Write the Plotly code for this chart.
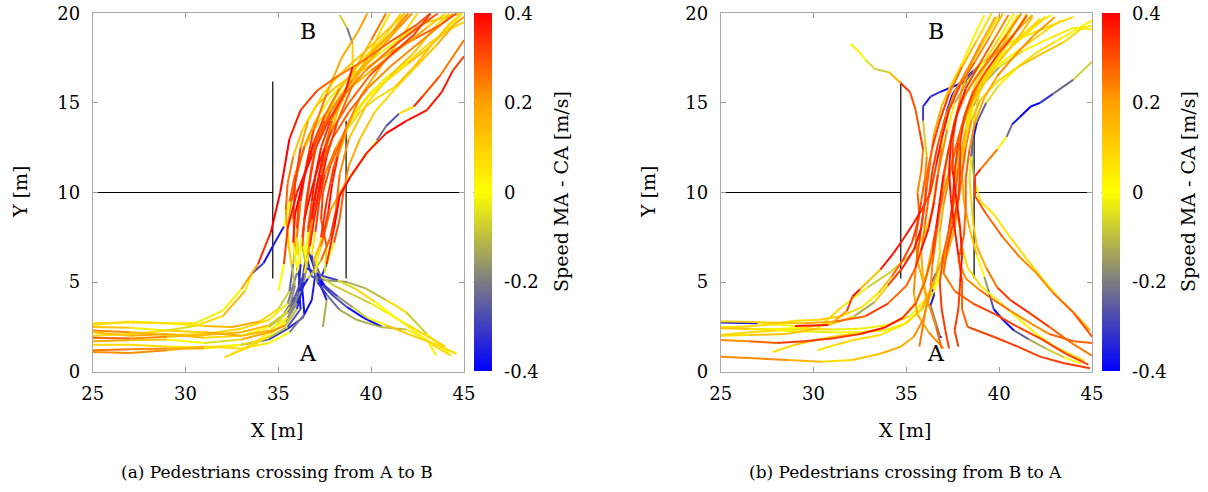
import plotly.graph_objects as go

FONT = "DejaVu Serif"

# ---------------- data ----------------
c_min, c_max = -0.4, 0.4
cbar_ticks = [-0.4, -0.2, 0, 0.2, 0.4]
cbar_text = ["-0.4", "-0.2", "0", "0.2", "0.4"]
x_ticks = [25, 30, 35, 40, 45]
y_ticks = [0, 5, 10, 15, 20]

# walls (x list, y list per wall piece)
walls = [
    ([25, 34.7], [10, 10]),
    ([38.65, 45], [10, 10]),
    ([34.7, 34.7], [5.2, 16.2]),
    ([38.65, 38.65], [5.2, 14.0]),
]

# ---- panel (a): A -> B, trajectories as (x, y, speed diff) ----
a01 = [(25,2.7,0.1),(27,2.75,0.05),(29,2.7,0.1),(30.5,2.7,0.0),(32,3.4,-0.05),(33,4.6,0.1),(33.9,6.0,0.3),(34.6,7.8,0.4),(35.1,10.0,0.4),(35.6,13.0,0.4),(36.2,14.6,0.35),(37.1,15.7,0.3),(38.2,16.5,0.25),(39.5,17.3,0.25),(41.0,18.4,0.3),(42.5,19.4,0.3),(43.2,20,0.3)]
a02 = [(25,2.5,0.15),(27,2.45,0.1),(29,2.3,-0.15),(30.5,2.55,0.05),(32,3.1,0.1),(33.2,4.5,0.2),(33.6,5.5,-0.25),(34.2,6.05,-0.35),(34.7,7.0,-0.38),(35.3,8.1,-0.3),(35.6,9.5,0.3),(35.9,11,0.25),(36.4,12.5,0.2),(37.2,14,0.05),(38.5,15.5,0.1),(40,16.8,0.2),(41.5,18,0.25),(43,19.2,0.1),(44,20,0.1)]
a03 = [(25,2.3,0.25),(27,2.2,0.2),(29,2.05,0.1),(31,2.1,0.05),(33,2.4,0.1),(34.5,2.9,0.05),(35.5,3.8,-0.1),(36.0,5.5,-0.3),(36.3,7.5,0.3),(36.6,10,0.35),(37.0,12.5,0.3),(37.8,14.5,0.25),(39.0,16.3,0.2),(40.3,17.8,0.15),(41.5,19.2,0.2),(42.2,20,0.25)]
a04 = [(25,2.0,0.05),(27,2.1,0.1),(29,2.3,0.05),(31,2.2,0.15),(33,2.0,0.2),(34.5,2.3,0.1),(35.5,3.0,-0.05),(36.2,4.5,-0.3),(36.5,6.5,-0.35),(36.9,8.5,0.3),(37.2,10,0.4),(37.6,12,0.35),(38.2,14,0.3),(39.0,16,0.25),(39.8,17.5,0.1),(40.5,19,0.05),(41,20,0.05)]
a05 = [(25,1.7,0.2),(27,1.75,0.15),(29,1.8,0.1),(31,1.6,-0.1),(33,1.8,0.0),(34.5,2.2,0.35),(35.4,2.6,0.1),(36.0,3.5,-0.3),(36.4,5.0,-0.4),(36.6,6.5,0.1),(36.8,8.5,0.35),(37.1,10.5,0.4),(37.5,12.5,0.35),(37.9,14,0.2),(38.5,15.5,0.05),(39.2,17,0.1),(40,18.5,0.2),(40.8,20,0.3)]
a06 = [(25,1.5,0.05),(27,1.5,0.1),(29,1.4,0.05),(31,1.35,0.05),(33,1.5,-0.1),(34.5,1.9,0.0),(35.5,2.5,-0.2),(36.2,3.5,-0.35),(36.1,4.8,-0.4),(36.2,6.0,-0.3),(36.0,7.5,0.2),(36.2,9.5,0.3),(36.5,11.5,0.35),(36.9,13.5,0.3),(37.6,15.5,0.2),(38.4,17.5,0.15),(39.3,19,0.2),(39.8,20,0.2)]
a07 = [(25,1.2,0.25),(27,1.25,0.25),(29,1.3,0.2),(31,1.3,0.15),(33,1.5,-0.1),(34.5,1.8,-0.3),(35.5,2.4,-0.35),(36.3,3.0,-0.35),(36.8,4.0,-0.4),(37.0,5.5,-0.3),(37.3,7.5,0.35),(37.6,9.5,0.35),(38.0,11.5,0.3),(38.6,13.5,0.25),(39.5,15.5,0.2),(40.5,17,0.15),(41.5,18.5,0.05),(42.5,20,0.1)]
a08 = [(25,2.6,0.1),(27,2.8,0.05),(29,2.7,0.0),(31,2.55,0.1),(32.5,2.5,0.2),(34,2.8,0.15),(35,3.5,0.05),(35.6,4.5,-0.2),(35.8,6.0,-0.3),(35.9,7.0,0.1),(35.8,8.5,0.3),(35.9,10.5,0.35),(36.2,12.5,0.3),(36.6,14,0.1),(37.4,15.5,0.05),(38.5,16.8,0.1),(39.8,18,0.15),(41,19.2,0.1),(41.8,20,0.15)]
a09 = [(25,1.9,0.3),(27,1.85,0.25),(29,1.95,0.2),(31,2.05,0.1),(33,2.2,0.2),(34.5,2.6,0.1),(35.3,3.2,-0.25),(35.9,4.2,-0.35),(36.4,5.5,-0.2),(36.7,7.0,0.3),(37.0,9.0,0.4),(37.3,11,0.3),(37.7,13,0.2),(38.3,14.8,0.05),(39.0,16.3,0.1),(40.0,17.8,0.15),(41.2,19,0.2),(42,20,0.25)]
a10 = [(25,2.2,0.1),(27,2.0,0.15),(29,2.1,0.2),(31,1.9,0.1),(33,2.0,0.05),(34.5,2.5,-0.05),(35.5,3.3,-0.15),(36.0,4.2,-0.35),(36.6,5.2,-0.4),(37.3,6.2,0.2),(37.8,7.5,0.35),(38.1,9.0,0.3),(38.3,11,0.25),(38.8,13,0.2),(39.8,15,0.05),(41.0,16.5,0.1),(42.3,17.8,0.15),(43.5,19.3,0.1),(44.2,20,0.05)]
a11 = [(32.1,0.8,0.05),(33.0,1.2,0.1),(34.0,1.8,0.05),(34.9,2.6,0.0),(35.6,3.6,-0.1),(35.9,4.8,-0.25),(35.7,6.0,0.05),(35.5,7.5,0.15),(35.4,9.0,0.25),(35.5,10.5,0.3),(35.8,12,0.2),(36.3,13.5,0.05),(37.0,14.8,0.1),(38.0,15.8,0.15),(39.3,16.8,0.1),(40.5,17.8,0.0),(41.8,18.8,0.05),(43,19.5,0.1),(44.8,20,0.15)]
a12 = [(32.5,1.0,0.1),(33.5,1.4,0.05),(34.5,2.0,0.1),(35.4,2.8,-0.05),(36.0,3.8,-0.3),(36.3,5.0,-0.38),(36.5,6.2,-0.3),(36.3,7.5,0.3),(36.5,9.5,0.35),(36.8,11.5,0.3),(37.2,13.2,0.2),(37.8,14.8,0.0),(38.6,16.2,-0.1),(39.6,17.5,0.05),(40.8,18.8,0.1),(41.6,20,0.1)]
a13 = [(35.0,4.5,-0.3),(35.3,6,0.3),(35.5,8,0.35),(36.0,10,0.4),(36.8,12,0.35),(37.7,14,0.3),(38.6,15.6,0.35),(39.0,17.0,0.4),(39.0,18.3,-0.2),(38.7,19.2,-0.2),(38.3,19.9,0.05)]
a14 = [(25,1.1,0.2),(27,1.05,0.25),(29,1.2,0.2),(31,1.4,0.1),(33,1.3,0.05),(34.5,1.6,0.05),(35.6,2.2,-0.05),(36.4,3.2,-0.35),(36.3,4.5,-0.4),(36.0,5.8,-0.3),(35.8,7.2,0.35),(35.9,8.8,0.4),(36.3,10.5,0.4),(36.8,12.3,0.35),(37.5,14,0.25),(38.4,15.5,0.1),(39.4,16.8,0.0),(40.5,18.2,0.05),(41.3,19.2,0.1),(41.8,20,0.1)]
a15 = [(44.2,1.0,0.05),(43.0,2.1,-0.05),(41.9,3.3,-0.1),(41.3,3.7,0.25),(40.8,4.0,-0.1),(39.7,4.65,-0.1),(38.7,5.0,-0.15),(37.6,5.1,-0.2),(36.8,5.3,-0.35),(36.5,6.5,-0.3),(36.6,7.8,0.3),(36.9,9.5,0.35),(37.3,11.5,0.3),(37.9,13,0.25),(38.8,14.5,0.3),(39.8,15.8,0.25),(41,17,0.2),(42.4,18.2,0.25),(43.7,19.3,0.2),(44.4,20,0.15)]
a16 = [(43.5,0.9,0.05),(43.0,1.8,0.0),(41.9,2.35,-0.05),(40.5,2.5,-0.15),(39.2,2.9,-0.1),(38.3,3.45,-0.15),(37.6,4.3,-0.3),(37.1,5.0,-0.35),(36.9,6.2,0.0),(37.4,7.5,0.3),(37.7,9.0,0.35),(37.9,10.5,0.4),(38.2,12,0.3),(38.7,13.5,0.05),(39.4,14.5,-0.15),(40.2,15.2,0.05),(41.3,15.9,0.1),(42.3,17.0,0.15),(43.3,18.3,0.1),(44.3,19.5,0.1),(44.9,20,0.05)]
a17 = [(44.6,1.0,0.1),(43.3,1.6,0.05),(42.0,2.1,0.15),(40.8,2.6,0.1),(39.8,3.0,-0.05),(39.0,3.6,-0.1),(38.2,4.2,-0.25),(37.5,4.8,-0.35),(37.0,5.6,-0.38),(36.6,6.8,-0.3),(36.6,8.0,0.25),(36.8,9.5,0.35),(37.0,11,0.4),(37.3,12.5,0.35),(37.8,14,0.3),(38.6,15.5,0.25),(39.7,16.8,0.2),(41.0,18,0.3),(42.5,19.2,0.3),(43.6,20,0.3)]
a18 = [(40.6,2.5,-0.38),(39.6,3.0,-0.4),(38.7,3.6,-0.35),(38.0,4.2,-0.2),(37.4,4.8,-0.4),(37.0,5.4,-0.4),(36.8,6.5,-0.2),(37.0,7.8,0.3),(37.2,9.5,0.35),(37.5,11,0.3),(38.1,12.5,0.2),(38.9,14,0.1),(39.8,15.3,0.0),(40.9,16.3,0.05),(42.0,17.2,0.1),(43.0,18,0.15),(44.0,19,0.1),(44.9,20,0.0)]
a19 = [(44.0,1.4,0.1),(43.0,2.0,0.1),(42.0,2.6,0.05),(41.0,3.2,0.0),(40.0,3.8,-0.05),(39.0,4.3,-0.1),(38.0,4.8,-0.05),(37.3,5.3,-0.1),(37.0,6.0,-0.35),(37.3,7.0,0.2),(37.8,9.0,0.3),(38.6,10.5,0.1),(39.5,11.8,0.05),(40.3,12.9,-0.1),(40.8,13.7,-0.35),(41.5,14.4,-0.2),(42.3,14.8,0.35),(42.8,15.4,0.35),(43.7,16.5,0.25),(45,18.5,0.25)]
a20 = [(37.6,6.0,0.3),(38.0,8.0,0.4),(38.3,9.8,0.4),(38.9,10.9,0.4),(39.75,12.2,0.35),(40.8,13.3,0.4),(41.9,14.0,0.4),(43.0,14.6,0.35),(43.8,15.6,0.4),(44.4,16.8,0.35),(45,17.6,0.3)]
a21 = [(44.3,0.9,0.1),(43.3,1.5,0.05),(42.3,2.3,0.0),(41.2,3.1,-0.05),(40.2,3.9,0.05),(39.2,4.6,0.1),(38.2,5.1,-0.2),(37.2,5.4,-0.38),(36.5,5.8,-0.4),(36.3,7.0,0.2),(36.4,8.5,0.35),(36.8,10.2,0.4),(37.3,12,0.35),(37.9,13.5,0.3),(38.8,15,0.25),(39.9,16.5,0.3),(41.1,17.7,0.3),(42.3,18.8,0.35),(43.2,20,0.3)]
a22 = [(37.4,2.5,0.05),(37.6,4.0,-0.3),(37.2,5.0,-0.4),(37.6,6.0,-0.3),(38.0,7.2,0.3),(38.3,8.5,0.3),(38.5,10,0.25),(38.8,11.5,0.2),(39.4,13,0.15),(40.2,14.5,0.1),(41.3,15.8,0.05),(42.4,17,0.1),(43.5,18.2,0.15),(44.5,19.4,0.2),(45,19.8,0.2)]
a23 = [(36.0,6.5,-0.2),(36.0,8,0.3),(36.1,9.5,0.35),(36.4,11,0.4),(36.9,12.8,0.35),(37.5,14.3,0.3),(38.3,15.8,0.2),(39.2,17.0,0.05),(40.2,18.0,0.1),(41.2,19,0.15),(42.0,20,0.15)]
a24 = [(37.5,5.5,-0.35),(37.6,7,0.25),(37.3,8.5,0.35),(37.4,10,0.3),(37.8,11.5,0.3),(38.4,13,0.25),(39.0,14.3,0.1),(39.9,15.5,0.0),(40.9,16.5,-0.05),(42,17.3,0.05),(43.1,18.3,0.1),(44.2,19.1,0.1),(45,19.5,0.1)]
a25 = [(35.6,6.8,-0.15),(35.5,8.0,0.1),(35.7,9.5,0.3),(36.0,11,0.3),(36.4,12.6,0.25),(37.0,14.0,0.15),(37.8,15.3,-0.1),(38.7,16.3,0.05),(39.8,17.0,0.1),(41.0,17.8,0.2),(42.4,18.6,0.25),(43.8,19.4,0.3),(44.6,20,0.3)]
paths_a = [a01,a02,a03,a04,a05,a06,a07,a08,a09,a10,a11,a12,a13,a14,a15,a16,a17,a18,a19,a20,a21,a22,a23,a24,a25]

# ---- panel (b): B -> A ----
b01 = [(39.6,20,0.05),(38.8,18.5,0.1),(38.0,17,0.2),(37.3,15.5,0.3),(36.8,14,0.35),(36.4,12.5,0.3),(36.1,11,0.25),(36.0,9.5,0.3),(35.8,8,0.35),(35.4,6.8,0.4),(34.8,5.8,0.35),(34.0,4.8,0.3),(33.3,3.9,-0.1),(32.2,3.1,-0.15),(30.8,2.6,0.35),(29,2.55,0.4),(27,2.7,-0.35),(25,2.75,-0.4)]
b02 = [(40.2,20,0.1),(39.5,18.7,0.2),(38.7,17.3,0.25),(37.9,16,0.3),(37.3,14.6,0.35),(36.9,13,0.4),(36.6,11.5,0.35),(36.3,10,0.3),(35.8,9,0.35),(35.4,8.3,0.4),(34.8,7.35,0.35),(34.3,6.6,0.4),(33.6,5.7,0.35),(33.0,5.1,-0.1),(32.5,4.6,0.4),(32.1,4.2,0.35),(31.8,3.4,0.3),(31.0,2.7,0.1),(29.5,2.45,0.05),(27.5,2.35,0.0),(25,2.45,0.1)]
b03 = [(40.8,20,0.0),(40.0,18.6,0.05),(39.2,17.3,0.1),(38.3,16.2,-0.1),(37.6,15.0,-0.15),(37.2,13.5,0.2),(36.9,12,0.25),(36.6,10.5,0.2),(36.4,9,0.15),(36.0,7.7,0.05),(35.3,6.6,-0.1),(34.2,5.6,-0.05),(32.9,4.7,-0.1),(31.5,3.6,0.05),(30.2,2.4,0.1),(28.5,2.1,0.15),(26.5,2.05,0.1),(25,2.0,0.05)]
b04 = [(41.2,20,0.2),(40.4,18.8,0.25),(39.5,17.5,0.3),(38.6,16.2,0.2),(37.9,15,0.25),(37.5,13.5,0.3),(37.2,12,0.25),(37.0,10.5,0.2),(36.8,9,0.25),(36.6,7.5,0.3),(36.4,6,0.25),(36.3,4.5,0.2),(35.9,2.9,0.25),(35.4,1.95,0.2),(34.7,1.4,0.15),(33.6,1.0,0.2),(32.1,0.65,0.05),(30.4,0.56,0.1),(28.6,0.65,0.2),(26.8,0.75,0.25),(25,0.84,0.2)]
b05 = [(27.8,1.1,0.05),(29.0,1.5,0.1),(30.5,1.85,0.15),(32,2.1,0.05),(33.5,2.35,0.0),(34.8,3.0,0.05),(35.6,4.0,0.1),(36.1,5.5,0.15),(36.4,7,0.2),(36.7,8.5,0.3),(37.0,10,0.25),(37.4,11.5,0.2),(37.8,13,0.15),(38.3,14.5,0.05),(39.0,16,0.1),(39.8,17.5,0.1),(40.6,19,0.05),(41.0,19.9,0.05)]
b06 = [(30.2,1.2,0.05),(31.2,1.5,0.05),(32.1,1.75,0.1),(33.6,2.05,0.05),(34.8,2.6,0.05),(35.8,3.4,0.0),(36.5,4.5,-0.1),(37.0,6,0.1),(37.3,7.5,0.2),(37.5,9,0.25),(37.7,10.5,0.3),(37.9,12,0.25),(38.2,13.5,0.1),(38.6,15,0.05),(39.3,16.5,0.0),(40.2,17.7,0.05),(41.3,18.7,0.05),(42.3,19.6,0.05),(42.8,19.9,0.0)]
b07 = [(25,1.77,0.2),(26.5,1.7,0.25),(28,1.6,0.3),(29.5,1.7,0.35),(31,1.85,0.3),(32.5,2.1,0.35),(33.8,2.45,0.4),(34.8,3.0,0.35),(35.5,3.8,0.3),(36.0,5,0.25),(36.4,6.5,0.3),(36.6,8,0.35),(36.8,9.5,0.4),(37.0,11,0.35),(37.3,12.5,0.3),(37.6,14,0.25),(38.2,15.5,0.2),(39.0,16.8,0.25),(40.0,18,0.2),(41.0,19.1,0.15),(41.8,19.9,0.2)]
b08 = [(25,2.05,0.05),(26.5,2.2,0.1),(28,2.3,0.05),(29.5,2.25,0.0),(31,2.2,-0.05),(32.5,2.2,0.05),(33.8,2.3,-0.1),(35,2.7,0.05),(35.8,3.5,0.1),(36.4,4.8,0.2),(36.9,6.2,0.2),(37.3,7.8,0.25),(37.5,9.3,0.2),(37.7,10.8,0.15),(38.0,12.2,0.1),(38.3,13.5,0.05),(38.6,14.8,-0.1),(39.1,16.0,-0.15),(40.0,17.0,-0.1),(41.3,17.9,0.0),(42.7,18.6,0.05),(44.0,19.2,0.05),(45,19.1,-0.1)]
b09 = [(25,2.42,0.15),(26.5,2.4,0.1),(28,2.35,-0.15),(29.5,2.4,0.05),(31,2.35,0.1),(32.5,2.4,-0.15),(34,2.6,0.1),(35.2,3.1,0.05),(36.0,4.0,0.0),(36.6,5.0,-0.1),(37.2,6.5,0.1),(37.6,8,0.2),(37.8,9.5,0.25),(38.0,11,0.3),(38.2,12.5,0.25),(38.5,14,0.2),(39.0,15.2,0.1),(39.9,16.2,0.05),(41.0,17.0,0.1),(42.2,17.7,0.15),(43.5,18.4,0.1),(44.5,19.2,0.05),(45,19.3,0.05)]
b10 = [(41.8,19.8,0.1),(41.0,18.6,0.15),(40.0,17.3,0.1),(39.2,16.1,0.05),(38.5,15.0,0.2),(38.0,13.8,0.25),(37.6,12.3,0.3),(37.3,10.8,0.25),(37.0,9.3,0.2),(36.8,7.8,0.15),(36.8,6.5,0.0),(36.6,5.5,-0.1),(36.3,4.9,-0.4),(36.5,4.3,-0.38),(36.3,3.7,-0.3),(36.6,2.7,-0.1),(36.8,2.0,-0.3),(36.9,1.9,-0.38)]
b11 = [(43.3,19.6,0.05),(42.2,18.8,0.1),(41.0,17.9,0.05),(39.8,17.0,0.0),(38.8,15.8,0.2),(38.2,14.3,0.25),(37.8,12.8,0.3),(37.6,11.2,0.35),(37.5,9.5,0.35),(37.3,8.0,0.3),(37.0,6.5,0.25),(36.8,5.0,0.35),(36.9,3.5,0.3),(37.1,2.3,0.35),(37.3,1.3,0.3)]
b12 = [(40.0,19.9,0.05),(39.2,18.5,0.1),(38.5,17.2,0.15),(38.0,15.8,0.2),(37.7,14.3,0.25),(37.5,12.8,0.3),(37.5,11.2,0.35),(37.7,9.6,0.4),(37.9,8.0,0.35),(38.0,6.5,0.4),(37.9,5.0,0.35),(37.8,3.5,0.3),(37.6,2.3,0.35),(37.8,1.4,0.3)]
b13 = [(39.8,19.8,0.15),(39.0,18.3,0.2),(38.3,16.9,0.25),(37.6,15.6,0.2),(37.1,14.2,0.25),(36.7,12.7,0.3),(36.4,11.2,0.35),(36.2,9.7,0.3),(36.0,8.2,0.25),(35.8,6.7,0.2),(35.9,5.2,0.15),(36.1,3.8,0.2),(35.9,2.6,0.25),(35.7,1.4,0.25)]
b14 = [(40.5,19.9,0.2),(39.7,18.5,0.25),(38.9,17.1,0.3),(38.2,15.8,0.35),(37.7,14.3,0.4),(37.4,12.8,0.35),(37.3,11.2,0.4),(37.4,9.6,0.35),(37.6,8.0,0.4),(37.8,6.5,0.35),(38.0,5.0,0.3),(38.0,3.5,0.25),(38.3,2.5,0.3),(39.7,1.95,0.35),(41.0,1.4,0.3),(42.2,0.84,0.35),(43.5,0.47,0.3),(44.9,0.19,0.35)]
b15 = [(41.0,19.9,0.0),(40.2,18.6,0.05),(39.4,17.3,0.05),(38.7,16.0,0.1),(38.2,14.5,0.1),(37.9,13,0.15),(37.7,11.5,0.2),(37.6,10,0.15),(37.8,8.5,0.1),(38.0,7.0,0.05),(38.3,5.8,0.1),(39.0,4.8,0.05),(40.0,3.9,0.0),(41.0,3.0,0.05),(42.0,2.1,0.0),(43.0,1.4,0.05),(44.0,0.9,0.1),(44.6,0.6,0.05)]
b16 = [(42.2,19.7,0.05),(41.3,18.8,0.1),(40.3,17.8,0.05),(39.4,16.8,0.0),(38.7,15.6,-0.05),(38.3,14.2,0.05),(38.1,12.6,0.1),(38.0,11.0,0.15),(38.1,9.5,0.2),(38.4,8.0,0.15),(38.8,6.5,0.1),(39.2,5.3,-0.1),(39.4,4.6,-0.2),(39.7,3.5,-0.35),(40.2,2.9,-0.4),(40.8,2.3,-0.35),(41.6,1.8,-0.15),(42.5,1.3,-0.1),(43.5,0.8,-0.05),(44.4,0.45,0.05)]
b17 = [(43.0,19.8,0.2),(41.8,18.7,0.2),(40.8,17.6,0.25),(39.9,16.5,0.2),(39.2,15.3,0.15),(38.7,13.9,0.2),(38.4,12.4,0.25),(38.2,10.8,0.3),(38.2,9.2,0.25),(38.1,7.6,0.3),(37.8,6.2,0.25),(38.2,5.2,0.2),(38.9,4.6,0.25),(39.7,4.0,0.3),(40.6,3.4,0.25),(41.7,2.7,0.2),(42.7,2.1,0.25),(44.0,1.7,0.3),(45,1.6,0.25)]
b18 = [(44.0,19.8,0.05),(43.0,19.4,0.1),(41.8,18.9,0.05),(40.5,18.3,-0.1),(39.5,17.6,-0.15),(38.6,16.7,-0.2),(38.2,16.2,-0.35),(37.5,15.9,-0.4),(36.8,15.6,-0.35),(36.3,15.35,-0.3),(35.9,14.8,-0.4),(35.9,14.0,-0.2),(36.0,13.0,0.05),(36.1,12.0,0.2),(36.0,10.8,0.25),(35.8,9.5,0.3),(35.6,8.3,0.35),(35.3,7.2,0.3),(34.8,6.2,0.35),(34.2,5.3,0.2),(33.5,4.4,0.05),(32.6,3.6,0.05),(31.5,3.1,0.1),(30.3,2.9,0.1),(29,2.85,0.05),(27.5,2.6,0.1),(25.8,2.5,0.05),(25,2.5,0.05)]
b19 = [(42.5,19.8,0.1),(41.5,19.0,0.05),(40.4,18.2,0.0),(39.4,17.5,-0.1),(38.6,16.8,-0.2),(38.0,16.2,-0.4),(37.5,15.5,-0.4),(37.2,14.6,-0.38),(37.0,13.8,-0.1),(36.9,12.5,0.2),(36.7,11,0.3),(36.5,9.5,0.35),(36.2,8.0,0.4),(35.8,6.8,0.35),(35.5,5.8,0.3),(35.0,4.8,0.25),(34.0,3.8,0.3),(32.8,3.1,0.35),(31.2,2.8,0.2),(29.5,2.7,0.15),(27.5,2.75,0.1),(25.5,2.8,0.1),(25,2.8,0.1)]
b20 = [(45,19.6,0.05),(44.0,19.0,0.0),(43.0,18.4,0.05),(42.0,17.8,0.1),(41.0,17.0,0.05),(40.0,16.0,0.0),(39.3,15.0,-0.1),(38.8,13.9,-0.38),(38.6,13.0,-0.35),(38.5,12.0,-0.1),(38.4,10.8,0.05),(38.5,9.5,0.1),(38.6,8.3,0.1),(38.8,7.0,0.15),(39.3,5.8,0.2),(39.9,4.7,0.3),(40.6,4.0,0.35),(41.6,3.3,0.35),(42.7,2.5,0.3),(43.9,1.6,0.25),(45,0.9,0.25)]
b21 = [(41.5,19.9,0.3),(40.8,18.8,0.3),(40.0,17.8,0.35),(39.3,16.8,0.3),(38.6,15.6,0.3),(38.1,14.2,0.35),(37.9,12.7,0.3),(37.9,11.2,0.35),(37.8,9.7,0.3),(37.5,8.2,0.35),(37.2,6.8,0.3),(37.0,5.5,0.25),(37.6,4.5,0.25),(38.6,3.8,0.3),(39.8,3.2,0.35),(41.0,2.5,0.3),(42.3,1.8,0.35),(43.6,1.0,0.3),(44.8,0.4,0.35)]
b22 = [(45,17.3,0.05),(44.0,16.3,-0.2),(42.9,15.5,-0.25),(42.2,15.0,-0.38),(41.7,14.8,-0.4),(41.1,14.2,-0.38),(40.7,13.8,-0.35),(40.4,13.1,-0.1),(39.9,12.4,0.15),(39.0,11.3,0.35),(38.7,10.9,0.35),(38.7,9.8,0.3),(39.3,8.8,0.3),(40.2,7.5,0.25),(41.1,6.4,0.25),(42.0,5.5,0.2),(42.9,4.4,0.25),(44.0,3.3,0.3),(45,1.95,0.3)]
b23 = [(41.5,20,0.05),(40.6,18.5,0.05),(39.6,17.0,0.1),(38.9,15.5,0.05),(38.6,13.5,-0.15),(38.5,12,-0.3),(38.7,10.5,0.05),(39.0,9.5,0.05),(39.7,8.8,0.05),(40.6,7.5,0.05),(41.7,6.0,0.1),(42.4,5.1,0.05),(43.3,4.0,0.0),(44.2,3.1,0.1),(44.9,2.3,0.2)]
b24 = [(32.0,18.3,0.05),(32.5,17.8,0.0),(32.8,17.4,0.0),(33.3,16.9,-0.1),(34.1,16.7,-0.05),(34.7,16.1,0.35),(35.2,15.6,0.35),(35.5,14.6,0.25),(35.7,13.5,0.35),(35.9,12.4,0.3),(35.8,11.2,0.2),(35.6,10,0.25),(35.7,8.8,0.3),(35.5,7.5,0.25),(35.6,6.2,0.2),(35.9,5,0.15),(36.2,3.8,0.2),(36.6,2.5,0.25),(36.9,1.3,0.3)]
b25 = [(39.2,19.9,0.05),(38.6,18.6,0.0),(38.0,17.2,0.05),(37.4,16.0,0.1),(36.9,14.8,0.15),(36.5,13.3,0.2),(36.3,11.8,0.25),(36.1,10.3,0.3),(35.9,8.8,0.35),(35.7,7.3,0.3),(35.5,5.8,0.25),(35.4,4.4,0.2),(35.6,3.2,0.15),(36.2,2.2,0.2),(37.0,1.3,0.25)]
paths_b = [b01,b02,b03,b04,b05,b06,b07,b08,b09,b10,b11,b12,b13,b14,b15,b16,b17,b18,b19,b20,b21,b22,b23,b24,b25]

# ---------------- styling ----------------
W, H = 1208, 492


def fx(px):
    return px / W


def fy(py):
    return 1 - py / H


stops = [(0.0, (0, 0, 255)), (0.25, (125, 125, 130)), (0.5, (255, 255, 0)),
         (0.75, (255, 160, 0)), (1.0, (255, 0, 0))]
colorscale = [[s, "rgb(%d,%d,%d)" % c] for s, c in stops]


def color_of(v):
    t = min(1.0, max(0.0, (v - c_min) / (c_max - c_min)))
    for (s0, c0), (s1, c1) in zip(stops[:-1], stops[1:]):
        if t <= s1:
            f = (t - s0) / (s1 - s0) if s1 > s0 else 0
            return "rgb(%d,%d,%d)" % tuple(round(a + (b - a) * f) for a, b in zip(c0, c1))
    return "rgb(255,0,0)"


fig = go.Figure()


def add_panel(paths, xa, ya):
    for wx, wy in walls:
        fig.add_trace(go.Scatter(x=wx, y=wy, mode="lines", xaxis=xa, yaxis=ya,
                                 line=dict(color="black", width=1.2),
                                 showlegend=False, hoverinfo="skip"))
    bins = {}
    for p in paths:
        for (x0, y0, v0), (x1, y1, v1) in zip(p[:-1], p[1:]):
            k = round(((v0 + v1) / 2) / 0.025)
            bx, by = bins.setdefault(k, ([], []))
            bx += [x0, x1, None]
            by += [y0, y1, None]
    for k in sorted(bins):
        bx, by = bins[k]
        fig.add_trace(go.Scatter(x=bx, y=by, mode="lines", xaxis=xa, yaxis=ya,
                                 line=dict(color=color_of(k * 0.025), width=2),
                                 showlegend=False, hoverinfo="skip"))


add_panel(paths_a, "x", "y")
add_panel(paths_b, "x2", "y2")

plot_top_px, plot_bot_px = 13.3, 371.7
ytop, ybot = fy(plot_top_px), fy(plot_bot_px)
cb_left_px = [473.5, 1101.7]
cb_w = 18
for (xa, ya), cxp in zip([("x", "y"), ("x2", "y2")], cb_left_px):
    fig.add_trace(go.Scatter(
        x=[None, None], y=[None, None], mode="markers", xaxis=xa, yaxis=ya,
        showlegend=False, hoverinfo="skip",
        marker=dict(color=[c_min, c_max], colorscale=colorscale, cmin=c_min, cmax=c_max,
                    showscale=True,
                    colorbar=dict(x=fx(cxp), xanchor="left", xpad=0, ypad=0,
                                  y=(ytop + ybot) / 2, yanchor="middle",
                                  len=ytop - ybot, lenmode="fraction",
                                  thickness=cb_w, thicknessmode="pixels",
                                  outlinewidth=0, tickvals=cbar_ticks, ticktext=cbar_text,
                                  ticks="outside", ticklen=9, tickcolor="rgba(0,0,0,0)",
                                  tickfont=dict(family=FONT, size=18, color="black"))),
    ))
    for tv in cbar_ticks[1:-1]:
        yy = ybot + (tv - c_min) / (c_max - c_min) * (ytop - ybot)
        for x0p, x1p in [(cxp, cxp + 5), (cxp + cb_w - 5, cxp + cb_w)]:
            fig.add_shape(type="line", xref="paper", yref="paper",
                          x0=fx(x0p), x1=fx(x1p), y0=yy, y1=yy,
                          line=dict(color="#666", width=1, dash="dot"))

axis_common = dict(showgrid=False, zeroline=False, showline=True, linecolor="#aaa",
                   linewidth=1, mirror="ticks", ticks="inside", ticklen=5, automargin=False,
                   tickcolor="#999", tickfont=dict(family=FONT, size=18, color="black"))

fig.update_layout(
    width=W, height=H, margin=dict(l=0, r=0, t=0, b=0),
    paper_bgcolor="white", plot_bgcolor="white",
    xaxis=dict(domain=[fx(92.7), fx(464)], range=[25, 45], tickvals=x_ticks,
               anchor="y", ticklabelstandoff=6, **axis_common),
    yaxis=dict(domain=[ybot, ytop], range=[0, 20], tickvals=y_ticks,
               anchor="x", ticklabelstandoff=8, **axis_common),
    xaxis2=dict(domain=[fx(720.7), fx(1092)], range=[25, 45], tickvals=x_ticks,
                anchor="y2", ticklabelstandoff=6, **axis_common),
    yaxis2=dict(domain=[ybot, ytop], range=[0, 20], tickvals=y_ticks,
                anchor="x2", ticklabelstandoff=8, **axis_common),
)

ann_font = dict(family=FONT, size=19, color="black")
cap_font = dict(family=FONT, size=17, color="black")
anns = [
    dict(x=fx(20), y=fy(192), text="Y [m]", textangle=-90),
    dict(x=fx(648), y=fy(192), text="Y [m]", textangle=-90),
    dict(x=fx(277), y=fy(430), text="X [m]"),
    dict(x=fx(905), y=fy(430), text="X [m]"),
    dict(x=fx(561), y=fy(192), text="Speed MA - CA [m/s]", textangle=-90),
    dict(x=fx(1188), y=fy(192), text="Speed MA - CA [m/s]", textangle=-90),
    dict(x=fx(277), y=fy(472), text="(a) Pedestrians crossing from A to B", font=cap_font),
    dict(x=fx(905), y=fy(472), text="(b) Pedestrians crossing from B to A", font=cap_font),
]
for a in anns:
    a.setdefault("font", ann_font)
    fig.add_annotation(xref="paper", yref="paper", showarrow=False,
                       xanchor="center", yanchor="middle", **a)

for xr, yr in [("x", "y"), ("x2", "y2")]:
    fig.add_annotation(x=36.6, y=19.0, xref=xr, yref=yr, text="B", showarrow=False,
                       font=dict(family=FONT, size=22, color="black"))
    fig.add_annotation(x=36.6, y=1.0, xref=xr, yref=yr, text="A", showarrow=False,
                       font=dict(family=FONT, size=22, color="black"))

fig.write_html("out.html", config={"displayModeBar": False},
               post_script="document.body.style.margin='0';")
